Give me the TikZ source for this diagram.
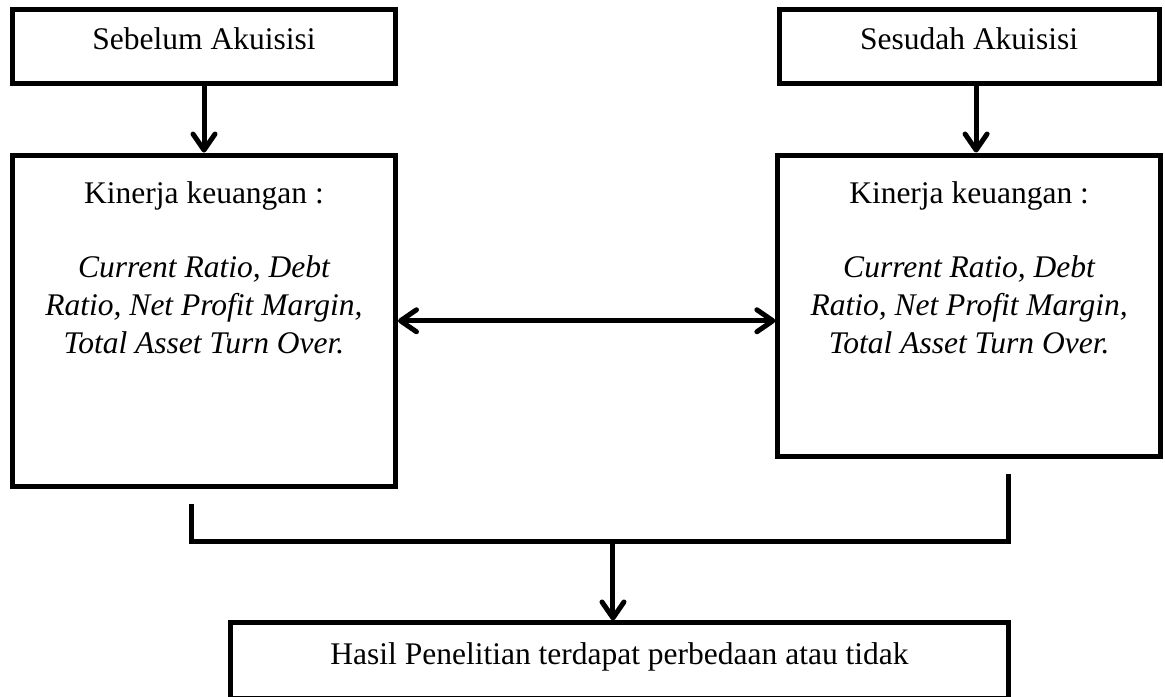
\documentclass[tikz,border=0pt]{standalone}
\usepackage{fontspec}
\setmainfont{Liberation Serif}
\usetikzlibrary{arrows.meta}

\begin{document}
\begin{tikzpicture}[
every node/.style={
draw,
line width=2.5pt,
align=center,
inner sep=0pt,
font=\fontsize{15.75pt}{19pt}\selectfont
},
kecil/.style={
minimum height=1.30cm,
text height=10.75pt,
text depth=7.25pt
},
panah/.style={
line width=2.5pt,
-{Straight Barb[length=8pt,width=11pt,round]}
},
panahdua/.style={
line width=2.5pt,
{Straight Barb[length=8pt,width=11pt,round]}-{Straight Barb[length=8pt,width=11pt,round]}
}
]

\useasboundingbox (0,0) rectangle (20.473,-12.248);

\node[kecil, minimum width=6.73cm] (SB) at (3.585,-0.817)
{Sebelum Akuisisi};

\node[kecil, minimum width=6.68cm] (SS) at (17.03,-0.817)
{Sesudah Akuisisi};

\node (KL) at (3.585,-5.637)
{\parbox[c][5.825cm][t]{6.73cm}{\centering\parskip=0pt
\rule{0pt}{24pt}Kinerja keuangan :\par\vspace{18pt}
\textit{Current Ratio, Debt\\ Ratio, Net Profit Margin,\\ Total Asset Turn Over.}}};

\node (KR) at (17.03,-5.373)
{\parbox[c][5.298cm][t]{6.72cm}{\centering\parskip=0pt
\rule{0pt}{24pt}Kinerja keuangan :\par\vspace{18pt}
\textit{Current Ratio, Debt\\ Ratio, Net Profit Margin,\\ Total Asset Turn Over.}}};

\node[minimum width=13.672cm, minimum height=1.327cm,
text height=10.75pt, text depth=6.5pt] (HP) at (10.886,-11.611)
{Hasil Penelitian terdapat perbedaan atau tidak};

% garis penggabung
\coordinate (bl) at (3.365,-8.857);
\coordinate (jl) at (3.365,-9.516);
\coordinate (br) at (17.714,-8.330);
\coordinate (jm) at (10.772,-9.516);

\draw[panah] (SB) -- (KL);
\draw[panah] ([xshift=3.5pt]SS.south) -- ([xshift=3.5pt]KR.north);
\draw[panahdua] (KL.east) -- (KL.east -| KR.west);
\draw[line width=2.5pt] (bl) -- (jl) -| (br);
\draw[panah] (jm) -- (jm |- HP.north);

\end{tikzpicture}
\end{document}
